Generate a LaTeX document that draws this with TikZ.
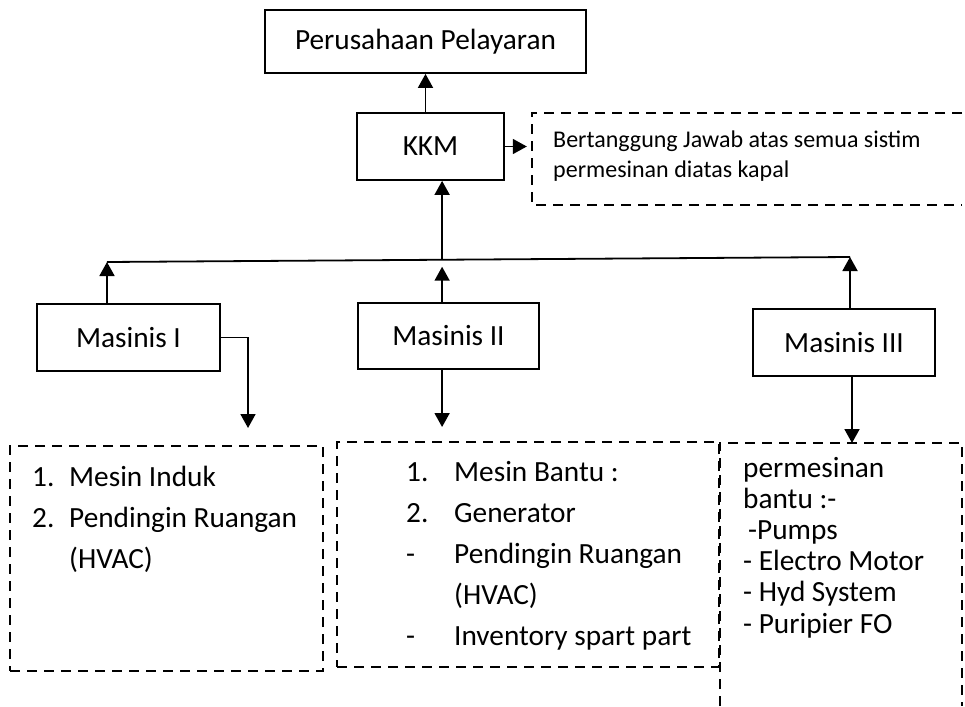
\documentclass[tikz,border=0pt]{standalone}
\usepackage{fontspec}
\setmainfont{Carlito}
\usetikzlibrary{arrows.meta, positioning, calc}

\tikzset{
  box/.style={draw, line width=1.8pt, inner sep=0pt, font=\fontsize{29.3}{34}\selectfont},
  dashline/.style={dash pattern=on 10pt off 7pt, line width=2pt},
  dashbox/.style={dashline, draw, inner sep=0pt},
  link/.style={line width=1.8pt, -{Triangle[width=15pt,length=14pt]}},
  body/.style={inner sep=0pt, anchor=base west},
}

\begin{document}
\begin{tikzpicture}[x=1pt, y=-1pt]
\useasboundingbox (0,0) rectangle (965,706);
% kotak jabatan
\node[box, minimum width=321pt, minimum height=63pt] (perusahaan) at (425.5,41.5) {Perusahaan Pelayaran};
\node[box, minimum width=147pt, minimum height=67pt] (kkm) at (430.5,146.5) {KKM};
\node[box, minimum width=183pt, minimum height=67pt] (masinisI) at (128.5,337.5) {Masinis I};
\node[box, minimum width=181pt, minimum height=66pt] (masinisII) at (448.5,336) {Masinis II};
\node[box, minimum width=182pt, minimum height=67pt] (masinisIII) at (844,342.5) {Masinis III};

% kotak tugas (garis putus-putus)
\node[minimum width=430pt, minimum height=92pt, inner sep=0pt] (callout) at (747,159) {};
\draw[dashline] (callout.north east) -- (callout.north west) -- (callout.south west) -- (callout.south east);
\node[dashbox, minimum width=313pt, minimum height=225pt] (boxI) at (166.5,558.5) {};
\node[dashbox, minimum width=382pt, minimum height=225pt] (boxII) at (528,554.5) {};
\node[minimum width=242pt, minimum height=263pt, inner sep=0pt] (boxIII) at (841,574.5) {};
\draw[dashline] (boxIII.south west) -- (boxIII.north west) -- (boxIII.north east) -- (boxIII.south east);

% isi teks
\node[body, font=\fontsize{24}{30}\selectfont] (txtKKM) at (553,147)
  {\begin{tabular}[t]{@{}l@{}}Bertanggung Jawab atas semua sistim\\permesinan diatas kapal\end{tabular}};
\node[body, font=\fontsize{29.3}{41}\selectfont] (txtI) at (32,486)
  {\begin{tabular}[t]{@{}p{37pt}@{}l@{}}1. & Mesin Induk\\2. & Pendingin Ruangan\\ & (HVAC)\end{tabular}};
\node[body, font=\fontsize{29.3}{41}\selectfont] (txtII) at (406,481)
  {\begin{tabular}[t]{@{}p{48pt}@{}l@{}}1. & Mesin Bantu :\\2. & Generator\\- & Pendingin Ruangan\\ & (HVAC)\\- & Inventory spart part\end{tabular}};
\node[body, font=\fontsize{29.3}{31.2}\selectfont] (txtIII) at (743,477)
  {\begin{tabular}[t]{@{}l@{}}permesinan\\bantu :-\\\hspace{5pt}-Pumps\\- Electro Motor\\- Hyd System\\- Puripier FO\end{tabular}};

% garis penghubung
\coordinate (busL) at (107,262);
\coordinate (busR) at (850,257);
\coordinate (busM) at ($(busL)!0.451!(busR)$);
\coordinate (dropI) at (248,446);
\coordinate (dropIII) at (852,443);
\draw[line width=1.8pt] (busL) -- (busR);
\draw[link] (kkm.north -| perusahaan.south) -- (perusahaan.south);
\draw[link, shorten >=5pt] (kkm.east) -- (kkm.east -| callout.west);
\draw[link] (busM) -- (busM |- kkm.south);
\draw[link] (busL |- masinisI.north) -- (busL);
\draw[link, shorten >=7pt] (busM |- masinisII.north) -- (busM);
\draw[link] (busR |- masinisIII.north) -- (busR);
\draw[link, shorten >=18pt] (masinisI.east) -| (dropI);
\draw[link, shorten >=14pt] (busM |- masinisII.south) -- (busM |- boxII.north);
\draw[link] (dropIII |- masinisIII.south) -- (dropIII);
\end{tikzpicture}
\end{document}
